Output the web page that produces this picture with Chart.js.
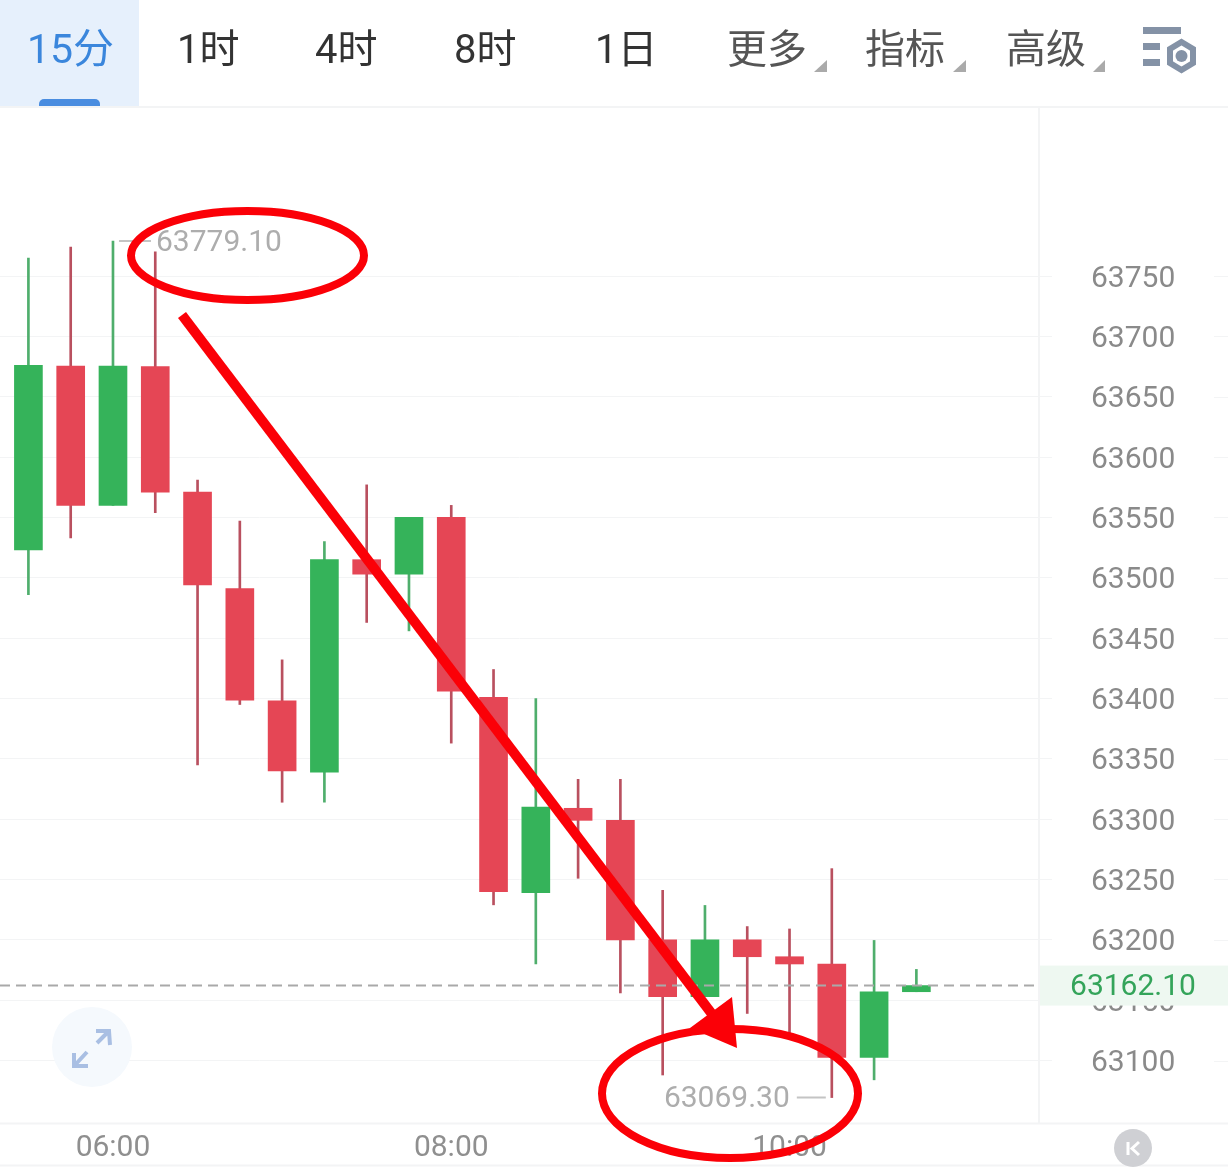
<!DOCTYPE html>
<html>
<head>
<meta charset="utf-8">
<title>15分</title>
<script src="https://cdn.jsdelivr.net/npm/chart.js@4"></script>
<style>
  html, body { margin: 0; padding: 0; background: #fff; }
  #page { position: relative; width: 1228px; height: 1167px; overflow: hidden; }
  #kline { position: absolute; left: 0; top: 0; }
  #toolbar { position: absolute; left: 0; top: 0; width: 1228px; height: 107px; font-family: Roboto, "Noto Sans CJK SC", sans-serif; font-size: 40px; }
  #toolbar .active-bg { position: absolute; left: 0; top: 0; width: 139px; height: 106px; background: #e6f0fc; }
  #toolbar .pill { position: absolute; left: 39px; top: 99px; width: 61px; height: 7px; background: #4a8de0; border-radius: 5px 5px 0 0; }
  #toolbar span { position: absolute; top: 27px; line-height: 46px; white-space: nowrap; color: #333; }
  #toolbar span.on { color: #3a86dc; font-size: 41px; top: 26px; }
  #toolbar span.more { color: #555; }
  #toolbar svg { position: absolute; left: 0; top: 0; }
</style>
</head>
<body>
<div id="page">
  <canvas id="kline" width="1228" height="1167"></canvas>
  <div id="toolbar">
    <div class="active-bg"></div>
    <div class="pill"></div>
    <span class="on" style="left:27px">15分</span>
    <span style="left:177px">1时</span>
    <span style="left:315px">4时</span>
    <span style="left:454px">8时</span>
    <span style="left:595px">1日</span>
    <span class="more" style="left:727px">更多</span>
    <span class="more" style="left:865px">指标</span>
    <span class="more" style="left:1006px">高级</span>
    <svg width="1228" height="107">
      <polygon points="827,60 827,72 814,72" fill="#aaaaaa"/>
      <polygon points="966,60 966,72 953,72" fill="#aaaaaa"/>
      <polygon points="1105,60 1105,72 1093,72" fill="#aaaaaa"/>
      <rect x="1143" y="27" width="38" height="7" fill="#8492a6"/>
      <rect x="1143" y="43" width="17" height="7" fill="#8492a6"/>
      <rect x="1143" y="59" width="17" height="7" fill="#8492a6"/>
      <polygon points="1181.5,42 1193,49 1193,63 1181.5,70 1170,63 1170,49" fill="none" stroke="#8492a6" stroke-width="6"/>
      <circle cx="1181.5" cy="56" r="6" fill="#8492a6"/>
    </svg>
  </div>
</div>
<script>
// 15 min candles
const categories = ['05:30','05:45','06:00','06:15','06:30','06:45','07:00','07:15','07:30','07:45','08:00','08:15','08:30','08:45','09:00','09:15','09:30','09:45','10:00','10:15','10:30','10:45'];
const opens  = [63523,63675.5,63560,63675,63571,63491,63398,63339,63515,63503,63550,63401,63239,63309,63299,63200,63153,63200,63186,63180,63102.5,63157];
const closes = [63676,63560,63675.5,63571,63494,63398.5,63340,63515,63503,63550,63406,63240,63310,63299,63200,63153,63200,63186,63180,63102.5,63157,63162.1];
const highs  = [63765,63774,63779.1,63770,63581,63547,63432,63530,63577,63550,63560,63424,63400,63333,63333,63241,63228.5,63211,63209,63259,63199.5,63175.5];
const lows   = [63486,63533,63560,63554,63345,63395,63314,63314,63463,63456,63363,63229,63180,63251,63156,63088,63153,63139,63123,63069.3,63084,63157];

const yTickValues = [63100,63150,63200,63250,63300,63350,63400,63450,63500,63550,63600,63650,63700,63750];
const timeTickIdx = [2, 10, 18]; // 06:00, 08:00, 10:00

const UP = '#35b35a';
const DOWN = '#e54655';
const UP_WICK = '#4fae6c';
const DOWN_WICK = '#b9505f';
const INK = '#fb0007'; // the hand drawn markup

const isUp = i => closes[i] >= opens[i];

// grid stubs, dividers, the two round buttons
const framePlugin = {
  id: 'frame',
  beforeDatasetsDraw(chart) {
    const { ctx, scales } = chart;
    const { y } = scales;
    ctx.save();
    ctx.strokeStyle = '#f3f4f5';
    ctx.lineWidth = 1;
    yTickValues.forEach(v => {
      const py = Math.round(y.getPixelForValue(v)) + 0.5;
      ctx.beginPath();
      ctx.moveTo(1214, py);
      ctx.lineTo(1228, py);
      ctx.stroke();
    });
    ctx.lineWidth = 2;
    ctx.beginPath();
    ctx.moveTo(0, 107); ctx.lineTo(1228, 107);
    ctx.moveTo(0, 1123.5); ctx.lineTo(1228, 1123.5);
    ctx.moveTo(0, 1165.5); ctx.lineTo(1228, 1165.5);
    ctx.moveTo(1039, 107); ctx.lineTo(1039, 1123);
    ctx.stroke();
    ctx.restore();
  }
};

// last price line + tag, high / low labels
const pricePlugin = {
  id: 'price',
  afterDatasetsDraw(chart) {
    const { ctx, scales } = chart;
    const { x, y } = scales;
    const last = closes[closes.length - 1];
    const py = y.getPixelForValue(last);

    ctx.save();
    ctx.strokeStyle = '#a9a9a9';
    ctx.lineWidth = 2;
    ctx.setLineDash([10, 6]);
    ctx.beginPath();
    ctx.moveTo(0, py);
    ctx.lineTo(1036, py);
    ctx.stroke();
    ctx.setLineDash([]);

    ctx.fillStyle = '#eef8f1';
    ctx.fillRect(1040, py - 20, 188, 40);
    ctx.fillStyle = '#34a45a';
    ctx.font = '30px Roboto';
    ctx.textAlign = 'center';
    ctx.textBaseline = 'middle';
    ctx.fillText(last.toFixed(2), 1133, py + 2);

    const hi = Math.max(...highs);
    const lo = Math.min(...lows);
    const hx = x.getPixelForValue(highs.indexOf(hi));
    const hy = y.getPixelForValue(hi);
    const lx = x.getPixelForValue(lows.indexOf(lo));
    const ly = y.getPixelForValue(lo);

    ctx.strokeStyle = '#c4c4c4';
    ctx.beginPath();
    ctx.moveTo(hx + 6, hy); ctx.lineTo(hx + 38, hy);
    ctx.moveTo(lx - 6, ly); ctx.lineTo(lx - 35, ly);
    ctx.stroke();

    ctx.fillStyle = '#adadad';
    ctx.textAlign = 'left';
    ctx.fillText(hi.toFixed(2), hx + 43, hy + 3);
    ctx.textAlign = 'right';
    ctx.fillText(lo.toFixed(2), lx - 42, ly + 2);
    ctx.restore();
  }
};

// buttons and the red pen marks on top of everything
const markupPlugin = {
  id: 'markup',
  afterDraw(chart) {
    const { ctx } = chart;
    ctx.save();

    // expand button
    ctx.fillStyle = '#f5f9fd';
    ctx.beginPath();
    ctx.arc(92, 1047, 40, 0, 2 * Math.PI);
    ctx.fill();
    ctx.strokeStyle = '#a9bfe3';
    ctx.lineWidth = 4;
    ctx.beginPath();
    ctx.moveTo(97, 1043); ctx.lineTo(109, 1031);
    ctx.moveTo(96, 1031); ctx.lineTo(109, 1031); ctx.lineTo(110, 1045);
    ctx.moveTo(87, 1052); ctx.lineTo(75, 1065);
    ctx.moveTo(74, 1053); ctx.lineTo(74, 1066); ctx.lineTo(88, 1066);
    ctx.stroke();

    // back to latest button
    ctx.fillStyle = '#cfd0d4';
    ctx.beginPath();
    ctx.arc(1133, 1148, 19, 0, 2 * Math.PI);
    ctx.fill();
    ctx.strokeStyle = '#ffffff';
    ctx.lineWidth = 3;
    ctx.beginPath();
    ctx.moveTo(1128, 1142); ctx.lineTo(1128, 1155);
    ctx.moveTo(1139, 1142); ctx.lineTo(1132, 1148.5); ctx.lineTo(1139, 1155);
    ctx.stroke();

    // ellipses
    ctx.strokeStyle = INK;
    ctx.lineWidth = 8;
    ctx.beginPath();
    ctx.ellipse(247.5, 255.5, 116.5, 44.5, 0, 0, 2 * Math.PI);
    ctx.stroke();
    ctx.beginPath();
    ctx.ellipse(730, 1093.5, 128, 64.5, 0, 0, 2 * Math.PI);
    ctx.stroke();

    // arrow
    ctx.lineWidth = 10;
    ctx.beginPath();
    ctx.moveTo(182, 315);
    ctx.lineTo(715, 1018);
    ctx.stroke();
    ctx.fillStyle = INK;
    ctx.beginPath();
    ctx.moveTo(732, 997);
    ctx.lineTo(737, 1048);
    ctx.lineTo(690, 1028);
    ctx.closePath();
    ctx.fill();

    ctx.restore();
  }
};

const ctx = document.getElementById('kline').getContext('2d');

new Chart(ctx, {
  type: 'bar',
  data: {
    datasets: [
      {
        // wicks
        label: 'wick',
        data: lows.map((l, i) => ({ x: i, y: [l, highs[i]] })),
        backgroundColor: lows.map((l, i) => isUp(i) ? UP_WICK : DOWN_WICK),
        barThickness: 2,
        grouped: false,
        order: 2
      },
      {
        // bodies
        label: 'body',
        data: opens.map((o, i) => ({ x: i, y: [o, closes[i]] })),
        backgroundColor: opens.map((o, i) => isUp(i) ? UP : DOWN),
        barThickness: 28,
        grouped: false,
        order: 1
      }
    ]
  },
  options: {
    responsive: false,
    animation: false,
    layout: { padding: { top: 107 } },
    plugins: {
      legend: { display: false },
      tooltip: { enabled: false }
    },
    scales: {
      x: {
        type: 'linear',
        offset: false,
        min: -0.672,
        max: 23.9,
        grid: { display: false, offset: false, drawTicks: false },
        border: { display: false },
        afterFit(axis) { axis.height = 57; },
        afterBuildTicks(axis) { axis.ticks = timeTickIdx.map(v => ({ value: v })); },
        ticks: {
          padding: 20,
          maxRotation: 0,
          autoSkip: false,
          color: '#8f8f8f',
          font: { family: 'Roboto', size: 30 },
          callback: value => categories[value]
        }
      },
      y: {
        position: 'right',
        min: 63059,
        max: 63890.1,
        grid: { color: '#f3f4f5', lineWidth: 1, tickLength: 13 },
        border: { display: false },
        afterFit(axis) { axis.width = 189; },
        afterBuildTicks(axis) { axis.ticks = yTickValues.map(v => ({ value: v })); },
        ticks: {
          padding: 39,
          labelOffset: 3,
          crossAlign: 'near',
          autoSkip: false,
          color: '#8a8a8a',
          font: { family: 'Roboto', size: 30 },
          callback: value => String(value)
        }
      }
    }
  },
  plugins: [framePlugin, pricePlugin, markupPlugin]
});
</script>
</body>
</html>
